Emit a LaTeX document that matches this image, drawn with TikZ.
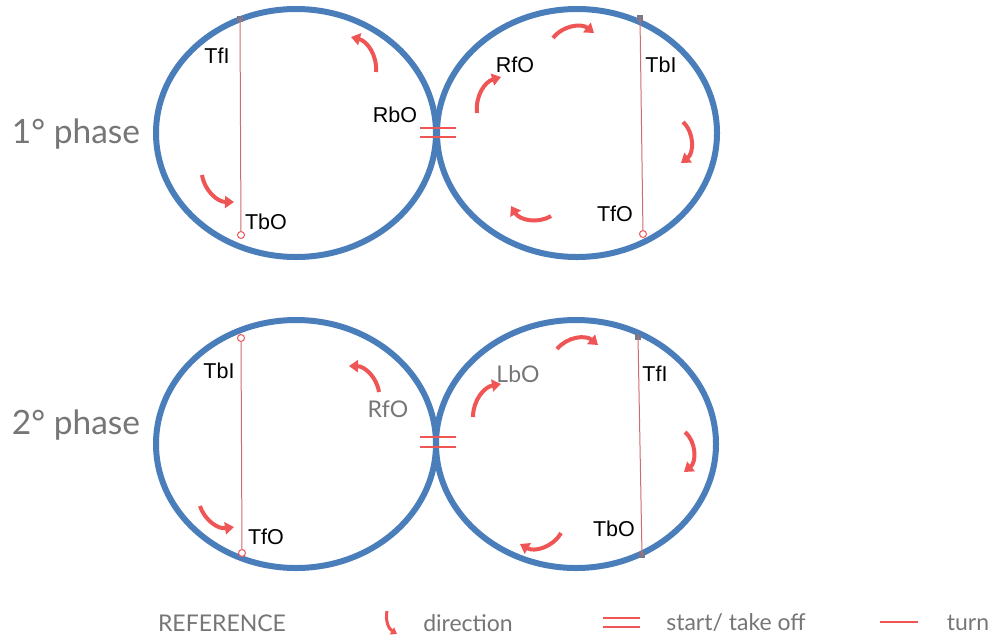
\documentclass[tikz,border=0pt]{standalone}
\usepackage{fontspec}
\setmainfont{Lato}
\newfontfamily\lblfont{Liberation Sans}
\usetikzlibrary{arrows.meta}
\definecolor{ring}{RGB}{74,126,187}
\definecolor{dirred}{RGB}{240,85,85}
\definecolor{turnline}{RGB}{205,110,110}
\definecolor{txtgrey}{RGB}{118,118,118}
\definecolor{markgrey}{RGB}{120,120,140}
\tikzset{
  ringst/.style={draw=ring, line width=6pt},
  dirarrow/.style={draw=dirred, line width=4pt, -{Triangle[length=9pt,width=12pt]}},
  turnst/.style={draw=turnline, line width=1pt},
  endcirc/.style={circle, draw=dirred, fill=white, line width=1pt, inner sep=0pt, minimum size=7pt},
  endmark/.style={rectangle, fill=markgrey, inner sep=0pt, minimum size=6pt},
  lbl/.style={font=\lblfont\fontsize{21.5}{23}\selectfont, text=black, inner sep=0pt},
  glbl/.style={font=\fontsize{23}{25}\selectfont, text=txtgrey, inner sep=0pt},
  phase/.style={font=\fontsize{33.5}{36}\selectfont, text=txtgrey, inner sep=0pt},
  legend/.style={font=\fontsize{23}{25}\selectfont, text=txtgrey, inner sep=0pt},
  startmark/.style={draw=dirred, line width=2.2pt}
}
\begin{document}
\begin{tikzpicture}[x=1pt,y=-1pt]
\useasboundingbox[fill=white] (0,0) rectangle (995,641);
% ---------- Phase 1 ----------
\draw[ringst] (296,133) ellipse[x radius=140, y radius=124];
\draw[ringst] (577,133) ellipse[x radius=140, y radius=124];
\node[phase] (ph1) at (76,134) {1° phase};
% left turn line
\node[endmark] (a1t) at (240,19) {};
\node[endcirc] (a1b) at (241,235) {};
\draw[turnst] (a1t.center) -- (a1b);
\node[lbl] (l1a) at (217,56) {TfI};
\node[lbl] (l1b) at (266,222) {TbO};
\node[lbl] (l1c) at (395,115) {RbO};
% right turn line
\node[endmark] (b1t) at (640,18) {};
\node[endcirc] (b1b) at (643,234) {};
\draw[turnst] (b1t.center) -- (b1b);
\node[lbl] (l1d) at (515,65) {RfO};
\node[lbl] (l1e) at (661,65) {TbI};
\node[lbl] (l1f) at (615,214) {TfO};
% start mark
\coordinate (s1l) at (420,128); \coordinate (s1r) at (456,128);
\coordinate (s1l2) at (420,137); \coordinate (s1r2) at (456,137);
\draw[startmark] (s1l) -- (s1r);
\draw[startmark] (s1l2) -- (s1r2);
% direction arrows
\coordinate (d1s) at (376,72); \coordinate (d1e) at (351,37);
\draw[dirarrow] (d1s) to[bend right=40] (d1e);
\coordinate (d2s) at (202,175); \coordinate (d2e) at (234,202);
\draw[dirarrow] (d2s) to[bend right=40] (d2e);
\coordinate (d3s) at (553,38); \coordinate (d3e) at (594,33);
\draw[dirarrow] (d3s) to[bend left=45] (d3e);
\coordinate (d4s) at (477,113); \coordinate (d4e) at (501,77);
\draw[dirarrow] (d4s) to[bend left=40] (d4e);
\coordinate (d5s) at (683,122); \coordinate (d5e) at (681,163);
\draw[dirarrow] (d5s) to[bend left=50] (d5e);
\coordinate (d6s) at (551,216); \coordinate (d6e) at (511,206);
\draw[dirarrow] (d6s) to[bend left=45] (d6e);
% ---------- Phase 2 ----------
\draw[ringst] (296,444) ellipse[x radius=140, y radius=124];
\draw[ringst] (576,444) ellipse[x radius=140, y radius=124];
\node[phase] (ph2) at (76,425) {2° phase};
\node[endcirc] (a2t) at (241,338) {};
\node[endcirc] (a2b) at (242,553) {};
\draw[turnst] (a2t) -- (a2b);
\node[lbl] (l2a) at (219,371) {TbI};
\node[lbl] (l2b) at (266,537) {TfO};
\node[glbl] (l2c) at (388,409) {RfO};
\node[endmark] (b2t) at (638,337) {};
\node[endmark] (b2b) at (642,555) {};
\draw[turnst] (b2t.center) -- (b2b.center);
\node[glbl] (l2d) at (518,374) {LbO};
\node[lbl] (l2e) at (655,374) {TfI};
\node[lbl] (l2f) at (614,529) {TbO};
\coordinate (s2l) at (420,437); \coordinate (s2r) at (456,437);
\coordinate (s2l2) at (420,447); \coordinate (s2r2) at (456,447);
\draw[startmark] (s2l) -- (s2r);
\draw[startmark] (s2l2) -- (s2r2);
\coordinate (e1s) at (379,392); \coordinate (e1e) at (349,366);
\draw[dirarrow] (e1s) to[bend right=40] (e1e);
\coordinate (e2s) at (200,506); \coordinate (e2e) at (234,527);
\draw[dirarrow] (e2s) to[bend right=40] (e2e);
\coordinate (e3s) at (557,349); \coordinate (e3e) at (598,345);
\draw[dirarrow] (e3s) to[bend left=45] (e3e);
\coordinate (e4s) at (473,417); \coordinate (e4e) at (501,384);
\draw[dirarrow] (e4s) to[bend left=40] (e4e);
\coordinate (e5s) at (685,432); \coordinate (e5e) at (684,472);
\draw[dirarrow] (e5s) to[bend left=50] (e5e);
\coordinate (e6s) at (561,533); \coordinate (e6e) at (520,544);
\draw[dirarrow] (e6s) to[bend left=45] (e6e);
% ---------- Legend ----------
\node[legend] (lg1) at (222,623) {REFERENCE};
\coordinate (lds) at (387,611); \coordinate (lde) at (397,634);
\draw[draw=dirred, line width=3pt, -{Triangle[length=6pt,width=8pt]}] (lds) to[bend right=35] (lde);
\node[legend] (lg2) at (468,623) {direction};
\coordinate (lsa) at (603,618); \coordinate (lsb) at (640,618);
\coordinate (lsc) at (603,627); \coordinate (lsd) at (640,627);
\draw[startmark] (lsa) -- (lsb);
\draw[startmark] (lsc) -- (lsd);
\node[legend] (lg3) at (736,623) {start/ take off};
\coordinate (lta) at (880,622); \coordinate (ltb) at (918,622);
\draw[draw=dirred, line width=2.6pt] (lta) -- (ltb);
\node[legend] (lg4) at (968,623) {turn};
\end{tikzpicture}
\end{document}
